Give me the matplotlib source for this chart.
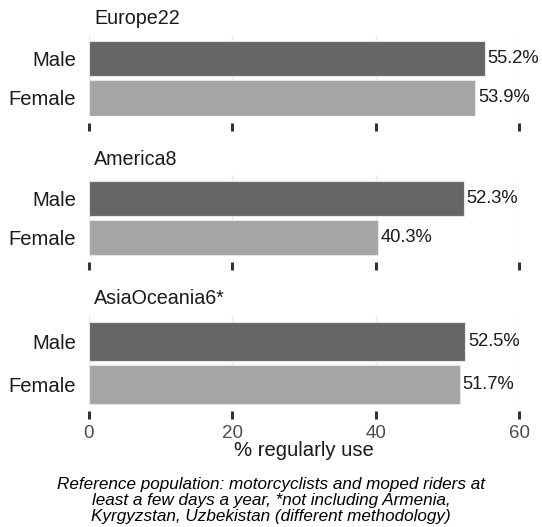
import matplotlib
matplotlib.use("Agg")
import matplotlib.pyplot as plt
import matplotlib.transforms as mtransforms

plt.rcParams['font.family'] = ['Liberation Sans', 'DejaVu Sans']

regions = ["Europe22", "America8", "AsiaOceania6*"]
genders = ["Female", "Male"]
male_vals = [55.2, 52.3, 52.5]
female_vals = [53.9, 40.3, 51.7]
x_ticks = [0, 20, 40, 60]
x_label = "% regularly use"
caption = ("Reference population: motorcyclists and moped riders at\n"
           "least a few days a year, *not including Armenia,\n"
           "Kyrgyzstan, Uzbekistan (different methodology)")

W, H = 542, 527
fig = plt.figure(figsize=(W / 100, H / 100), dpi=100)

left_px, right_px = 89, 519
panels_px = [(35, 116), (175, 255.5), (315, 404.5)]
col_male = "#666666"
col_female = "#a5a5a5"
txt = "#1a1a1a"

for i, (top, bot) in enumerate(panels_px):
    ax = fig.add_axes([left_px / W, 1 - bot / H, (right_px - left_px) / W, (bot - top) / H])
    vals = [female_vals[i], male_vals[i]]
    cols = [col_female, col_male]
    ax.barh([0, 1], vals, height=0.9, color=cols, edgecolor="#e6e6e6", linewidth=0.8, zorder=2)
    for y, v in zip([0, 1], vals):
        ax.annotate(f"{v:.1f}%", (v, y), xytext=(2, 0), textcoords="offset points",
                    ha="left", va="center", fontsize=13.2, color=txt, annotation_clip=False)
    ax.set_xlim(0, 60)
    ax.set_ylim(-0.46, 1.6)
    ax.set_yticks([0, 1])
    ax.set_yticklabels(genders, fontsize=14.6, color=txt)
    ax.set_xticks(x_ticks)
    ax.grid(axis="x", color="#ebebeb", linewidth=1.0, zorder=0)
    ax.set_axisbelow(True)
    for s in ["top", "right", "left"]:
        ax.spines[s].set_visible(False)
    ax.spines["bottom"].set_position(("outward", 5))
    ax.spines["bottom"].set_visible(False)
    ax.tick_params(axis="y", length=0, pad=9.5)
    ax.tick_params(axis="x", length=6, width=2.2, color="#333333", direction="out",
                   labelsize=13.5, labelcolor="#4d4d4d", pad=4)
    if i < 2:
        ax.tick_params(axis="x", labelbottom=False)
    tr = ax.transAxes + mtransforms.ScaledTranslation(0, 16 / 100, fig.dpi_scale_trans)
    ax.text((94 - left_px) / (right_px - left_px), 1, regions[i], transform=tr,
            ha="left", va="center", fontsize=14.2, color=txt)

fig.text((left_px + right_px) / 2 / W, 1 - 451 / H, x_label, ha="center", va="center",
         fontsize=14.6, color=txt)
fig.text(271 / W, 1 - 500.5 / H, caption, ha="center", va="center", fontsize=12.3,
         style="italic", color="#000000", linespacing=1.06)

fig.savefig("out.png", dpi=100)
